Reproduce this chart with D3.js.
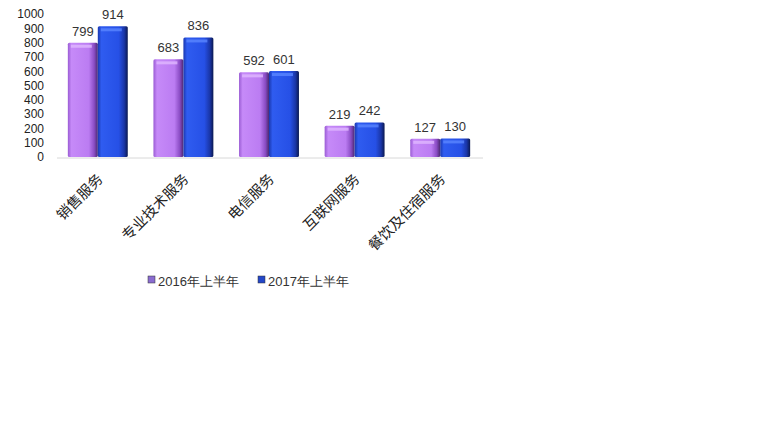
<!DOCTYPE html>
<html><head><meta charset="utf-8">
<script src="https://cdn.jsdelivr.net/npm/d3@7"></script>
<style>body{margin:0;background:#fff}svg{display:block}</style>
</head><body>
<svg id="c" width="767" height="437"></svg>
<script>
const categories = ["销售服务","专业技术服务","电信服务","互联网服务","餐饮及住宿服务"];
const seriesNames = ["2016年上半年","2017年上半年"];
const values2016 = [799, 683, 592, 219, 127];
const values2017 = [914, 836, 601, 242, 130];
const yTicks = [0,100,200,300,400,500,600,700,800,900,1000];

const svg = d3.select("#c");
const x = d3.scaleBand().domain(categories).range([55, 483]).paddingInner(0.3).paddingOuter(0.15);
const x1 = d3.scaleBand().domain(seriesNames).range([0, x.bandwidth()]);
const y = d3.scaleLinear().domain([0, 1000]).range([157, 14]);

const defs = svg.append("defs");
function grad(id, stops){
  const g = defs.append("linearGradient").attr("id", id).attr("x1",0).attr("y1",0).attr("x2",1).attr("y2",0);
  stops.forEach(s=>g.append("stop").attr("offset",s[0]).attr("stop-color",s[1]));
}
grad("gP", [[0,"#9a5cd4"],[0.12,"#c68af8"],[0.7,"#bb7cf2"],[0.88,"#8a4cc4"],[1,"#4a2870"]]);
grad("gB", [[0,"#1a38b0"],[0.12,"#2f5cf0"],[0.7,"#2650e6"],[0.88,"#1a36a8"],[1,"#0a1850"]]);
const fills = {"2016年上半年":"url(#gP)","2017年上半年":"url(#gB)"};
const tops = {"2016年上半年":"#e0b8ff","2017年上半年":"#5a86ff"};
const legendCol = {"2016年上半年":"#8a6cd0","2017年上半年":"#2447c8"};

const numFont = "Liberation Sans, Arial, sans-serif";

// y axis labels
const yAxis = d3.axisLeft(y).tickValues(yTicks).tickSize(0).tickPadding(0).tickFormat(d3.format("d"));
const ya = svg.append("g").attr("transform","translate(44,0)").call(yAxis);
ya.select(".domain").remove();
ya.selectAll("text").attr("font-family",numFont).attr("font-size",12).attr("fill","#222");

// baseline
svg.append("line").attr("x1",57).attr("x2",483).attr("y1",158).attr("y2",158).attr("stroke","#d8d8d8");

const data = categories.map((c,i)=>({c, vals:[{s:seriesNames[0],v:values2016[i]},{s:seriesNames[1],v:values2017[i]}]}));
const g = svg.append("g").selectAll("g").data(data).join("g").attr("transform",d=>`translate(${x(d.c)},0)`);
const bar = g.selectAll("g").data(d=>d.vals).join("g");
bar.append("rect")
  .attr("x",d=>x1(d.s)).attr("width",x1.bandwidth())
  .attr("y",d=>y(d.v)).attr("height",d=>y(0)-y(d.v))
  .attr("fill",d=>fills[d.s]).attr("rx",1.5);
bar.append("rect")
  .attr("x",d=>x1(d.s)+3).attr("width",x1.bandwidth()-9)
  .attr("y",d=>y(d.v)+2).attr("height",3)
  .attr("fill",d=>tops[d.s]).attr("opacity",0.8);
bar.append("text")
  .attr("x",d=>x1(d.s)+x1.bandwidth()/2).attr("y",d=>y(d.v)-7)
  .attr("text-anchor","middle").attr("font-family",numFont)
  .attr("font-size",13).attr("fill","#333").text(d=>d.v);

// x labels rotated
svg.append("g").selectAll("text").data(categories).join("text")
  .attr("transform",d=>`translate(${x(d)+x.bandwidth()/2+6},${180}) rotate(-45)`)
  .attr("text-anchor","end").attr("font-family","Noto Sans CJK SC, sans-serif")
  .attr("font-size",14.5).attr("fill","#222").text(d=>d);

// legend
const lg = svg.append("g").attr("transform","translate(148,281)");
const items = lg.selectAll("g").data(seriesNames).join("g").attr("transform",(d,i)=>`translate(${i*110},0)`);
items.append("rect").attr("x",0).attr("y",-5).attr("width",7).attr("height",7).attr("fill",d=>legendCol[d]).attr("stroke","#333").attr("stroke-width",0.5);
items.append("text").attr("x",10).attr("y",5).attr("font-family",numFont)
  .attr("font-size",13).attr("fill","#333").text(d=>d);
</script>
</body></html>
